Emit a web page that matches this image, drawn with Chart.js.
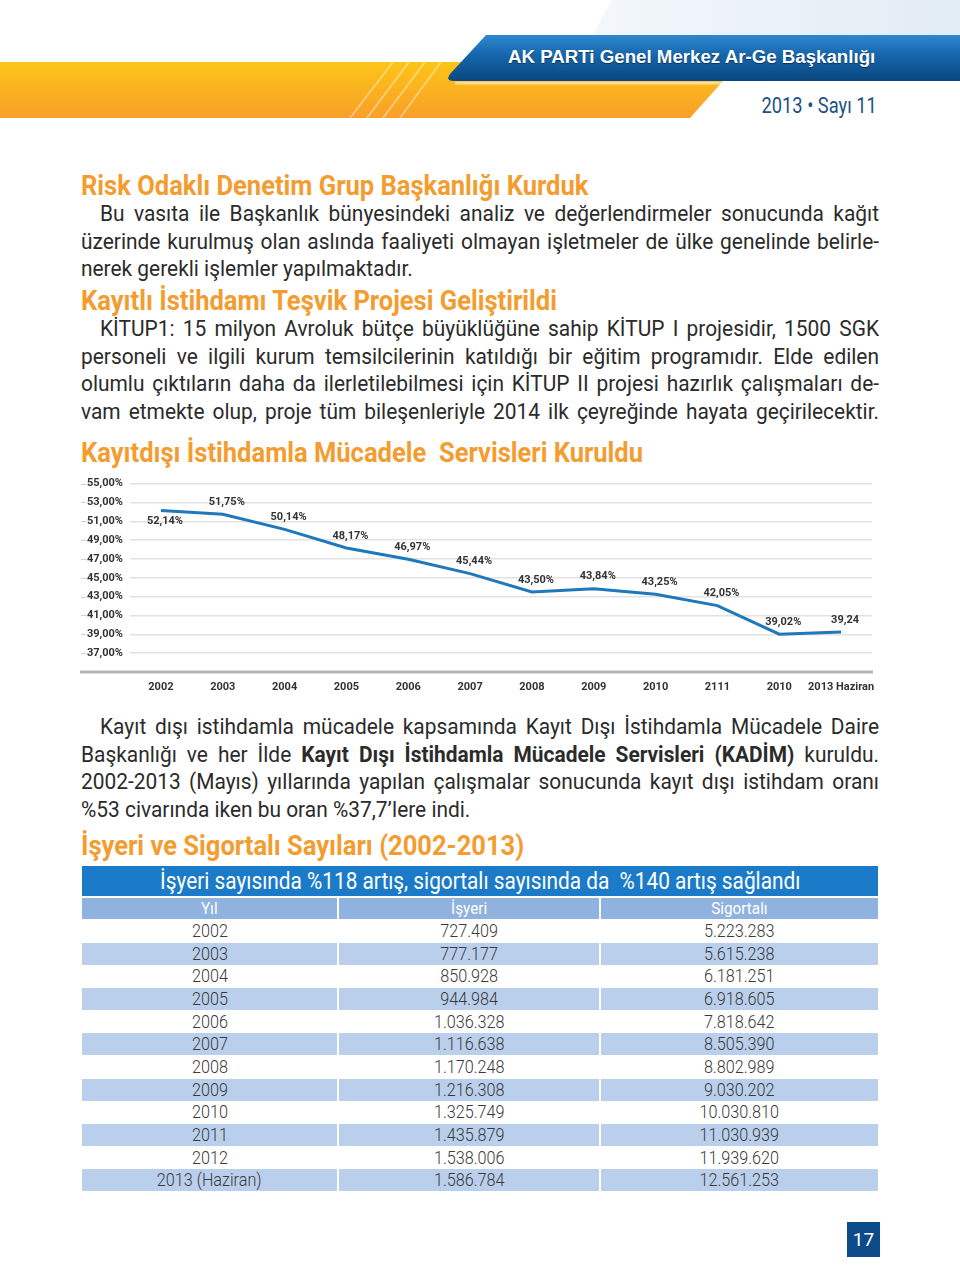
<!DOCTYPE html>
<html lang="tr">
<head>
<meta charset="utf-8">
<title>Kayıtdışı İstihdamla Mücadele</title>
<script src="https://cdn.jsdelivr.net/npm/chart.js@4.4.1/dist/chart.umd.min.js"></script>
<style>
  html,body{margin:0;padding:0;background:#fff;}
  body{width:960px;height:1265px;position:relative;overflow:hidden;
       font-family:Roboto,"Liberation Sans",sans-serif;color:#2b2b2b;}
  .abs{position:absolute;}
  .h{position:absolute;left:81px;font-weight:bold;color:#f39c30;font-size:27px;line-height:30px;white-space:pre;
     transform:scaleX(0.945);transform-origin:left center;}
  .para{position:absolute;left:81px;width:840px;font-size:22px;transform:scaleX(0.95);transform-origin:left top;}
  .ln{height:27.6px;line-height:27.6px;white-space:nowrap;text-align:justify;text-align-last:justify;}
  .ln.last{text-align-last:left;}
  .ln.ind{padding-left:20px;}
  .banner{position:absolute;left:508px;top:46px;font-family:"Liberation Sans",Arial,sans-serif;font-weight:bold;
          font-size:18.7px;color:#fff;text-shadow:0 1px 1px rgba(0,0,0,.45);white-space:nowrap;}
  .issue{position:absolute;right:83px;top:93px;font-size:22px;color:#1d4f86;white-space:nowrap;
         transform:scaleX(0.83);transform-origin:right center;}
  .cell{position:absolute;text-align:center;color:#3a3a3a;overflow:visible;white-space:pre;}
  .cell span{display:inline-block;transform:scaleX(0.9);}
  .pnum{position:absolute;left:847px;top:1222px;width:33px;height:35px;background:#0d4a89;color:#fff;
        font-size:19px;line-height:35px;text-align:center;}
</style>
</head>
<body>
<svg class="abs" style="left:0;top:0" width="960" height="125">
  <defs>
    <linearGradient id="og" x1="0" y1="0" x2="0" y2="1">
      <stop offset="0" stop-color="#fdc517"/>
      <stop offset="1" stop-color="#f89f2a"/>
    </linearGradient>
    <linearGradient id="bg" x1="0" y1="0" x2="0" y2="1">
      <stop offset="0" stop-color="#2f88cf"/>
      <stop offset="0.45" stop-color="#1565ab"/>
      <stop offset="1" stop-color="#0b477f"/>
    </linearGradient>
    <linearGradient id="pg" x1="0" y1="0" x2="1" y2="0">
      <stop offset="0" stop-color="#f3f7fb"/>
      <stop offset="1" stop-color="#e2ecf5"/>
    </linearGradient>
  </defs>
  <polygon points="612,0 960,0 960,36 592,36" fill="url(#pg)"/>
  <polygon points="0,62 740,62 690,118 0,118" fill="url(#og)"/>
  <g stroke="#fff" stroke-opacity="0.45" stroke-width="1.5">
    <line x1="350" y1="118" x2="393" y2="62"/>
    <line x1="367" y1="118" x2="409" y2="62"/>
    <line x1="383" y1="118" x2="425" y2="62"/>
    <line x1="400" y1="118" x2="441" y2="62"/>
  </g>
  <line x1="455" y1="83" x2="722" y2="83" stroke="#fff" stroke-opacity="0.5" stroke-width="3"/>
  <path d="M486,35 L960,35 L960,81 L454,81 Q445,81 450,74 Z" fill="url(#bg)"/>
</svg>
<div class="banner">AK PARTi Genel Merkez Ar-Ge Başkanlığı</div>
<div class="issue">2013 • Sayı 11</div>

<div class="h" style="top:171px">Risk Odaklı Denetim Grup Başkanlığı Kurduk</div>
<div class="para" style="top:200px">
  <div class="ln ind">Bu vasıta ile Başkanlık bünyesindeki analiz ve değerlendirmeler sonucunda kağıt</div>
  <div class="ln">üzerinde kurulmuş olan aslında faaliyeti olmayan işletmeler de ülke genelinde belirle-</div>
  <div class="ln last">nerek gerekli işlemler yapılmaktadır.</div>
</div>

<div class="h" style="top:286px">Kayıtlı İstihdamı Teşvik Projesi Geliştirildi</div>
<div class="para" style="top:315px">
  <div class="ln ind">KİTUP1: 15 milyon Avroluk bütçe büyüklüğüne sahip KİTUP I projesidir, 1500 SGK</div>
  <div class="ln">personeli ve ilgili kurum temsilcilerinin katıldığı bir eğitim programıdır. Elde edilen</div>
  <div class="ln">olumlu çıktıların daha da ilerletilebilmesi için KİTUP II projesi hazırlık çalışmaları de-</div>
  <div class="ln">vam etmekte olup, proje tüm bileşenleriyle 2014 ilk çeyreğinde hayata geçirilecektir.</div>
</div>

<div class="h" style="top:438px">Kayıtdışı İstihdamla Mücadele  Servisleri Kuruldu</div>

<canvas id="chart" class="abs" style="left:70px;top:470px" width="815" height="230"></canvas>

<div class="para" style="top:713px">
  <div class="ln ind">Kayıt dışı istihdamla mücadele kapsamında Kayıt Dışı İstihdamla Mücadele Daire</div>
  <div class="ln">Başkanlığı ve her İlde <b>Kayıt Dışı İstihdamla Mücadele Servisleri (KADİM)</b> kuruldu.</div>
  <div class="ln">2002-2013 (Mayıs) yıllarında yapılan çalışmalar sonucunda kayıt dışı istihdam oranı</div>
  <div class="ln last">%53 civarında iken bu oran %37,7’lere indi.</div>
</div>

<div class="h" style="top:831px">İşyeri ve Sigortalı Sayıları (2002-2013)</div>

<div id="table"></div>

<div class="pnum">17</div>

<script>
// ---- chart data ----
const categories = ['2002','2003','2004','2005','2006','2007','2008','2009','2010','2111','2010','2013 Haziran'];
const rates = [52.14, 51.75, 50.14, 48.17, 46.97, 45.44, 43.50, 43.84, 43.25, 42.05, 39.02, 39.24];
const rateLabels = ['52,14%','51,75%','50,14%','48,17%','46,97%','45,44%','43,50%','43,84%','43,25%','42,05%','39,02%','39,24'];
const yMin = 35, yMax = 55, yStep = 2;

// ---- table data ----
const tableTitle = 'İşyeri sayısında %118 artış, sigortalı sayısında da  %140 artış sağlandı';
const tableHeaders = ['Yıl','İşyeri','Sigortalı'];
const tableYears = ['2002','2003','2004','2005','2006','2007','2008','2009','2010','2011','2012','2013 (Haziran)'];
const workplaces = ['727.409','777.177','850.928','944.984','1.036.328','1.116.638','1.170.248','1.216.308','1.325.749','1.435.879','1.538.006','1.586.784'];
const insured = ['5.223.283','5.615.238','6.181.251','6.918.605','7.818.642','8.505.390','8.802.989','9.030.202','10.030.810','11.030.939','11.939.620','12.561.253'];

const FONT = 'Roboto,"Liberation Sans",sans-serif';

// compress any text line that would overflow its box
document.querySelectorAll('.ln').forEach(el=>{
  const avail = el.clientWidth - (parseFloat(getComputedStyle(el).paddingLeft) || 0);
  const probe = document.createElement('span');
  probe.style.whiteSpace = 'nowrap';
  probe.innerHTML = el.innerHTML;
  el.innerHTML = '';
  el.appendChild(probe);
  const w = probe.getBoundingClientRect().width / 0.95;
  el.innerHTML = probe.innerHTML;
  if (w > avail) {
    const k = avail / w;
    el.style.width = (el.clientWidth / k) + 'px';
    el.style.transform = 'scaleX(' + k + ')';
    el.style.transformOrigin = 'left center';
  }
});

// build table
(function(){
  const host = document.getElementById('table');
  const cols = [[82,255],[339,260],[601,277]];
  const mk = (css, txt) => {
    const d = document.createElement('div'); d.className = 'cell'; Object.assign(d.style, css);
    const s = document.createElement('span'); s.textContent = txt; d.appendChild(s);
    host.appendChild(d); return d;
  };
  mk({left:'82px',top:'866px',width:'796px',height:'30px',lineHeight:'30px',background:'#1b7bc8',color:'#fff',fontSize:'24px'}, tableTitle)
    .firstChild.style.transform = 'scaleX(0.867)';
  tableHeaders.forEach((h,i)=>mk({left:cols[i][0]+'px',top:'898px',width:cols[i][1]+'px',height:'21px',lineHeight:'21px',background:'#8fb2df',color:'#fff',fontSize:'17px'}, h));
  const rowH = 22.65;
  tableYears.forEach((yr,r)=>{
    const vals = [yr, workplaces[r], insured[r]];
    const bg = r % 2 === 1 ? '#b9cfec' : 'transparent';
    vals.forEach((v,i)=>mk({left:cols[i][0]+'px',top:(920 + r*rowH)+'px',width:cols[i][1]+'px',height:(rowH-0.6)+'px',lineHeight:(rowH-0.6)+'px',background:bg,fontSize:'18px',fontWeight:'300'}, v));
  });
})();

// chart
const decor = {
  id: 'decor',
  beforeDatasetsDraw(chart){
    const {ctx, chartArea, scales:{y}} = chart;
    ctx.save();
    ctx.strokeStyle = '#d0d0d0'; ctx.lineWidth = 1;
    y.ticks.forEach(t=>{
      if (t.value === yMin) return;
      const py = Math.round(y.getPixelForValue(t.value)) + 0.5;
      ctx.beginPath(); ctx.moveTo(11, py); ctx.lineTo(16, py); ctx.stroke();
    });
    const yb = y.getPixelForValue(yMin);
    ctx.strokeStyle = '#b4b4b4'; ctx.lineWidth = 3;
    ctx.beginPath(); ctx.moveTo(10, yb); ctx.lineTo(chartArea.right + 1, yb); ctx.stroke();
    ctx.restore();
  },
  afterDatasetsDraw(chart){
    const {ctx} = chart;
    const meta = chart.getDatasetMeta(0);
    ctx.save();
    ctx.font = 'bold 11px ' + FONT;
    ctx.fillStyle = '#333';
    ctx.textAlign = 'center';
    ctx.textBaseline = 'middle';
    meta.data.forEach((pt,i)=>{
      const dy = i === 0 ? 11 : -12;
      ctx.fillText(rateLabels[i], pt.x + 4, pt.y + dy);
    });
    ctx.restore();
  }
};

new Chart(document.getElementById('chart'), {
  type: 'line',
  data: {
    labels: categories,
    datasets: [{
      data: rates,
      borderColor: '#1f78b9',
      borderWidth: 3,
      pointRadius: 0,
      pointHoverRadius: 0,
      tension: 0,
      fill: false
    }]
  },
  options: {
    responsive: false,
    animation: false,
    devicePixelRatio: 1,
    layout: { padding: { top: 13, right: 13, left: 0, bottom: 0 } },
    plugins: { legend: { display: false }, tooltip: { enabled: false } },
    scales: {
      x: {
        offset: true,
        grid: { display: false, drawTicks: false },
        border: { display: false },
        ticks: { color: '#333', font: { family: FONT, size: 11, weight: 'bold' }, padding: 9, maxRotation: 0, autoSkip: false },
        afterFit(s){ s.height = 28; }
      },
      y: {
        min: yMin, max: yMax,
        grid: { color: '#e2e2e2', lineWidth: 1.5, drawTicks: false },
        border: { display: false },
        ticks: {
          stepSize: yStep,
          padding: 7,
          color: '#333',
          font: { family: FONT, size: 11, weight: 'bold' },
          callback: v => v === yMin ? '' : v.toFixed(2).replace('.', ',') + '%'
        },
        afterFit(s){ s.width = 60; }
      }
    }
  },
  plugins: [decor]
});
</script>
</body>
</html>
